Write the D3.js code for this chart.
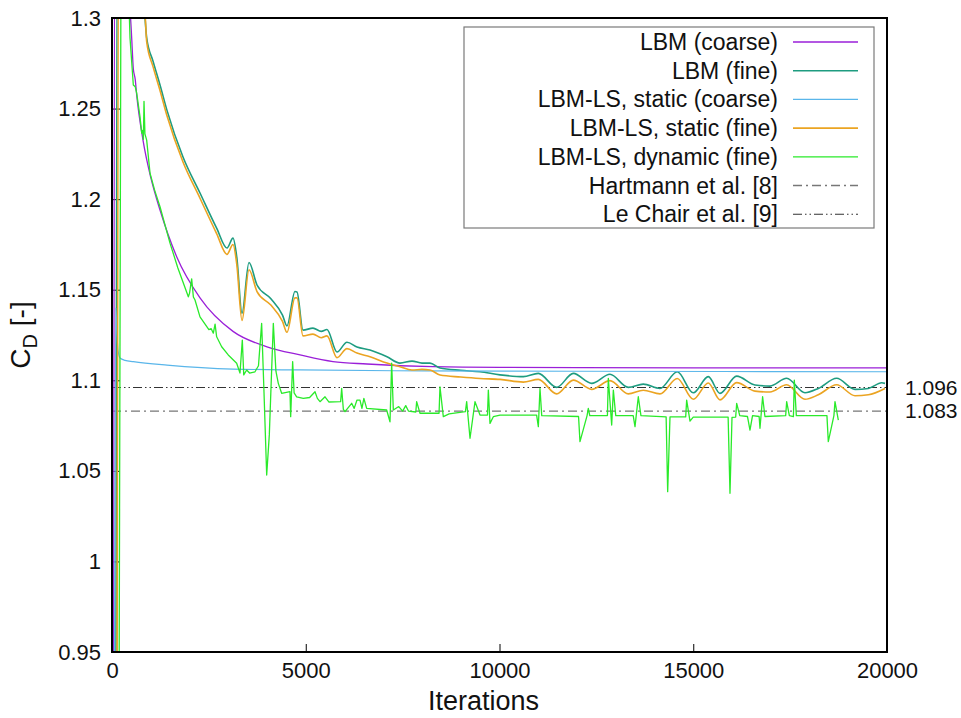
<!DOCTYPE html>
<html>
<head>
<meta charset="utf-8">
<script src="https://cdn.jsdelivr.net/npm/d3@7"></script>
<style>
  body { margin: 0; background: #fff; }
  text { font-family: "Liberation Sans", Arial, Helvetica, sans-serif; fill: #111; }
</style>
</head>
<body>
<div id="chart"></div>
<script>
// drag coefficient vs iterations
const lbmCoarse = [[40,0.90],[75,1.40],[400,1.33],[508,1.289],[550,1.272],[600,1.266],[637,1.2575],[800,1.2326],
  [1000,1.212],[1239,1.194],[1669,1.1682],[2271,1.1455],[3123,1.127],[4000,1.1185],[4852,1.114],[5703,1.1103],
  [6581,1.109],[8284,1.1075],[10013,1.1071],[15000,1.1069],[20000,1.1068]];

const lbmFine = [[100,0.90],[140,1.40],[600,1.36],[852,1.30],[895,1.289],[1061,1.276],[1239,1.263],[1419,1.249],
  [1832,1.2233],[2271,1.2034],[2700,1.184],[2968,1.173],[3123,1.1785],[3220,1.168],[3355,1.137],[3535,1.165],
  [3742,1.1526],[4100,1.145],[4400,1.136],[4516,1.130],[4722,1.149],[4774,1.1488],[4929,1.1277],[5187,1.1288],
  [5400,1.127],[5548,1.128],[5806,1.1156],[6064,1.121],[6322,1.1184],[6658,1.1167],[7097,1.113],[7432,1.1095],
  [7742,1.1106],[8000,1.1095],[8206,1.1095],[8464,1.1068],[9000,1.1055],[9497,1.1047],[10013,1.103],[10615,1.1020],
  [11002,1.1038],[11475,1.0961],[11905,1.1038],[12379,1.0983],[12851,1.1033],[13324,1.0961],[13711,1.0979],
  [14142,1.0955],[14588,1.1047],[15001,1.0931],[15388,1.1020],[15690,1.0928],[16121,1.1023],[16593,1.0974],
  [16980,1.0968],[17411,1.1011],[17883,1.0931],[18227,1.0955],[18701,1.1011],[19174,1.0950],[19518,1.0955],
  [19864,1.0986],[19948,1.0983]];

const lsStaticCoarse = [[60,0.90],[100,1.14],[130,1.125],[155,1.1167],[206,1.1123],[335,1.111],[550,1.1103],
  [1419,1.1084],[3123,1.1062],[4852,1.1057],[8000,1.1052],[12000,1.105],[20000,1.1047]];

const lsStaticFine = [[130,0.90],[175,1.40],[600,1.37],[860,1.30],[895,1.287],[1061,1.273],[1239,1.260],[1419,1.246],
  [1832,1.2205],[2271,1.2005],[2700,1.181],[2968,1.1695],[3123,1.175],[3220,1.164],[3355,1.133],[3535,1.161],
  [3742,1.149],[4100,1.1415],[4400,1.1325],[4516,1.1265],[4722,1.1455],[4774,1.1455],[4929,1.1245],[5187,1.1255],
  [5400,1.1235],[5548,1.1245],[5806,1.1125],[6064,1.1175],[6322,1.115],[6658,1.113],[7097,1.1095],[7432,1.1075],
  [7742,1.1057],[8000,1.106],[8206,1.1057],[8464,1.1029],[9000,1.1018],[9497,1.1010],[10013,1.1005],[10615,1.0990],
  [11002,1.1005],[11475,1.0925],[11905,1.1001],[12379,1.0950],[12851,1.0998],[13324,1.0925],[13711,1.0945],
  [14142,1.0925],[14588,1.1010],[15001,1.0895],[15388,1.0985],[15690,1.0892],[16121,1.0987],[16593,1.0940],
  [16980,1.0935],[17411,1.0975],[17883,1.0895],[18227,1.0920],[18701,1.0975],[19174,1.0915],[19518,1.0920],
  [19948,1.0955]];

const lsDynamicFine = [[180,0.90],[240,1.40],[420,1.32],[465,1.289],[550,1.263],[600,1.262],[637,1.2585],[723,1.2455],
  [766,1.2365],[790,1.238],[810,1.233],[826,1.254],[850,1.236],[895,1.2326],[981,1.2144],[1100,1.205],[1239,1.1958],
  [1497,1.1757],[1700,1.162],[1970,1.1461],[2000,1.148],[2056,1.156],[2100,1.146],[2142,1.1443],[2271,1.135],
  [2500,1.128],[2560,1.1285],[2615,1.126],[2660,1.131],[2701,1.124],[2830,1.1185],[3000,1.114],[3217,1.1094],
  [3303,1.104],[3363,1.1222],[3400,1.103],[3475,1.1057],[3550,1.104],[3690,1.1047],[3780,1.108],[3862,1.1314],
  [3920,1.095],[3992,1.0477],[4060,1.07],[4163,1.1314],[4230,1.105],[4292,1.0983],[4378,1.0928],[4593,1.0937],
  [4611,1.0799],[4662,1.1103],[4700,1.093],[4765,1.0909],[4937,1.090],[5100,1.0905],[5239,1.0937],[5300,1.090],
  [5368,1.0882],[5497,1.0909],[5600,1.088],[5900,1.0882],[5927,1.0955],[5970,1.084],[6013,1.0827],[6185,1.0873],
  [6250,1.0845],[6320,1.089],[6400,1.0891],[6450,1.0845],[6500,1.090],[6572,1.0845],[7088,1.0836],[7174,1.0771],
  [7217,1.1094],[7260,1.0836],[7400,1.0855],[7500,1.083],[7580,1.086],[7650,1.083],[7840,1.0825],[7862,1.0882],
  [7948,1.0818],[8440,1.0818],[8464,1.0964],[8550,1.0799],[8700,1.0815],[9120,1.0827],[9153,1.0882],[9239,1.068],
  [9368,1.0882],[9497,1.0808],[9690,1.0808],[9712,1.0946],[9755,1.0762],[9841,1.0799],[10013,1.0808],[10958,1.0808],
  [11002,1.0744],[11045,1.0955],[11090,1.0805],[12040,1.080],[12077,1.0661],[12260,1.0805],[12292,1.0845],
  [12330,1.0805],[12785,1.0805],[12808,1.1011],[12895,1.0753],[12938,1.0946],[13000,1.0805],[13450,1.0805],
  [13497,1.0744],[13582,1.0909],[13650,1.0805],[14300,1.0798],[14340,1.0385],[14400,1.0798],[14805,1.0798],
  [14830,1.0891],[14916,1.0775],[15000,1.0797],[15900,1.0797],[15948,1.0376],[16000,1.0795],[16095,1.0797],
  [16121,1.0873],[16200,1.0805],[16400,1.080],[16464,1.0725],[16530,1.0805],[16700,1.080],[16722,1.0735],
  [16790,1.0909],[16850,1.080],[17385,1.0805],[17411,1.0882],[17480,1.0805],[17585,1.080],[17608,1.1001],
  [17660,1.0805],[18450,1.0805],[18485,1.0661],[18630,1.0805],[18658,1.0882],[18744,1.078]];

// reference values
const refValues = [1.096, 1.083];

const xTicks = [0, 5000, 10000, 15000, 20000];
const yTicks = [0.95, 1, 1.05, 1.1, 1.15, 1.2, 1.25, 1.3];

const series = [
  {name: "LBM (coarse)", data: lbmCoarse, color: "#9a1fd8", w: 1.3, smooth: true},
  {name: "LBM (fine)", data: lbmFine, color: "#1e9c80", w: 1.6, smooth: true},
  {name: "LBM-LS, static (coarse)", data: lsStaticCoarse, color: "#5ab6ea", w: 1.2, smooth: true},
  {name: "LBM-LS, static (fine)", data: lsStaticFine, color: "#eba422", w: 1.6, smooth: true},
  {name: "LBM-LS, dynamic (fine)", data: lsDynamicFine, color: "#2aea2a", w: 1.3, smooth: false}
];
const refs = [
  {name: "Hartmann et al. [8]", value: refValues[1], color: "#777", dash: "9,4,2,4", w: 1.4},
  {name: "Le Chair et al. [9]", value: refValues[0], color: "#333", dash: "9,3,1.5,3,1.5,3", w: 1.1}
];

// set the dimensions and margins of the graph
let margin = {top: 18, right: 74, bottom: 66, left: 112},
  width = 961 - margin.left - margin.right,
  height = 718 - margin.top - margin.bottom;

const svg = d3.select("#chart")
  .append("svg")
    .attr("width", 961)
    .attr("height", 718)
  .append("g")
    .attr("transform", "translate(" + margin.left + "," + margin.top + ")");

let x = d3.scaleLinear().domain([0, 20000]).range([0, width]);
let y = d3.scaleLinear().domain([0.95, 1.3]).range([height, 0]);

svg.append("clipPath").attr("id", "clip")
  .append("rect").attr("width", width).attr("height", height);

// axes with inward ticks
svg.append("g")
  .attr("transform", "translate(0," + height + ")")
  .call(d3.axisBottom(x).tickValues(xTicks).tickFormat(d3.format("d")).tickSizeInner(-8).tickSizeOuter(0).tickPadding(10))
  .call(g => g.select(".domain").remove())
  .call(g => g.selectAll("text").style("font-size", "22px").style("font-family", "Liberation Sans, Arial, sans-serif").attr("fill", "#111"));

svg.append("g")
  .call(d3.axisLeft(y).tickValues(yTicks).tickFormat(d => String(+d.toFixed(2))).tickSizeInner(-8).tickSizeOuter(0).tickPadding(11))
  .call(g => g.select(".domain").remove())
  .call(g => g.selectAll("text").style("font-size", "22px").style("font-family", "Liberation Sans, Arial, sans-serif").attr("fill", "#111"));

// reference lines
refs.forEach(r => {
  svg.append("line")
    .attr("x1", 0).attr("x2", width)
    .attr("y1", y(r.value)).attr("y2", y(r.value))
    .attr("stroke", r.color)
    .attr("stroke-width", r.w)
    .attr("stroke-dasharray", r.dash);
  svg.append("text")
    .attr("x", width + 18)
    .attr("y", y(r.value))
    .attr("dy", "0.35em")
    .style("font-size", "21px")
    .text(r.value.toFixed(3));
});

// curves
const plot = svg.append("g").attr("clip-path", "url(#clip)");
series.forEach(s => {
  let line = d3.line()
    .x(d => x(d[0]))
    .y(d => y(d[1]))
    .curve(s.smooth ? d3.curveMonotoneX : d3.curveLinear);
  plot.append("path")
    .datum(s.data)
    .attr("d", line)
    .attr("fill", "none")
    .attr("stroke", s.color)
    .attr("stroke-width", s.w)
    .attr("stroke-linejoin", "round");
});

// frame
svg.append("rect")
  .attr("width", width).attr("height", height)
  .attr("fill", "none")
  .attr("stroke", "#000")
  .attr("stroke-width", 2);

// legend
const lg = svg.append("g").attr("transform", "translate(" + (464 - margin.left) + "," + (27 - margin.top) + ")");
lg.append("rect")
  .attr("width", 410).attr("height", 201)
  .attr("fill", "#fff")
  .attr("stroke", "#7a7a7a")
  .attr("stroke-width", 1.2);

const items = series.map(s => ({name: s.name, color: s.color, w: s.w, dash: null}))
  .concat(refs.map(r => ({name: r.name, color: r.color, w: r.w, dash: r.dash})));

items.forEach((it, i) => {
  let yy = 15 + i * 28.7;
  lg.append("text")
    .attr("x", 314)
    .attr("y", yy)
    .attr("dy", "0.35em")
    .attr("text-anchor", "end")
    .style("font-size", "23px")
    .text(it.name);
  lg.append("line")
    .attr("x1", 329).attr("x2", 394)
    .attr("y1", yy).attr("y2", yy)
    .attr("stroke", it.color)
    .attr("stroke-width", it.w)
    .attr("stroke-dasharray", it.dash);
});

// axis titles
svg.append("text")
  .attr("x", width / 2 - 16)
  .attr("y", height + 58)
  .attr("text-anchor", "middle")
  .style("font-size", "27px")
  .text("Iterations");

const yl = svg.append("text")
  .attr("transform", "translate(" + (-82) + "," + (height / 2) + ")rotate(-90)")
  .attr("text-anchor", "middle")
  .style("font-size", "28px");
yl.append("tspan").text("C");
yl.append("tspan").attr("dy", 7).style("font-size", "20px").text("D");
yl.append("tspan").attr("dy", -7).text(" [-]");
</script>
</body>
</html>
